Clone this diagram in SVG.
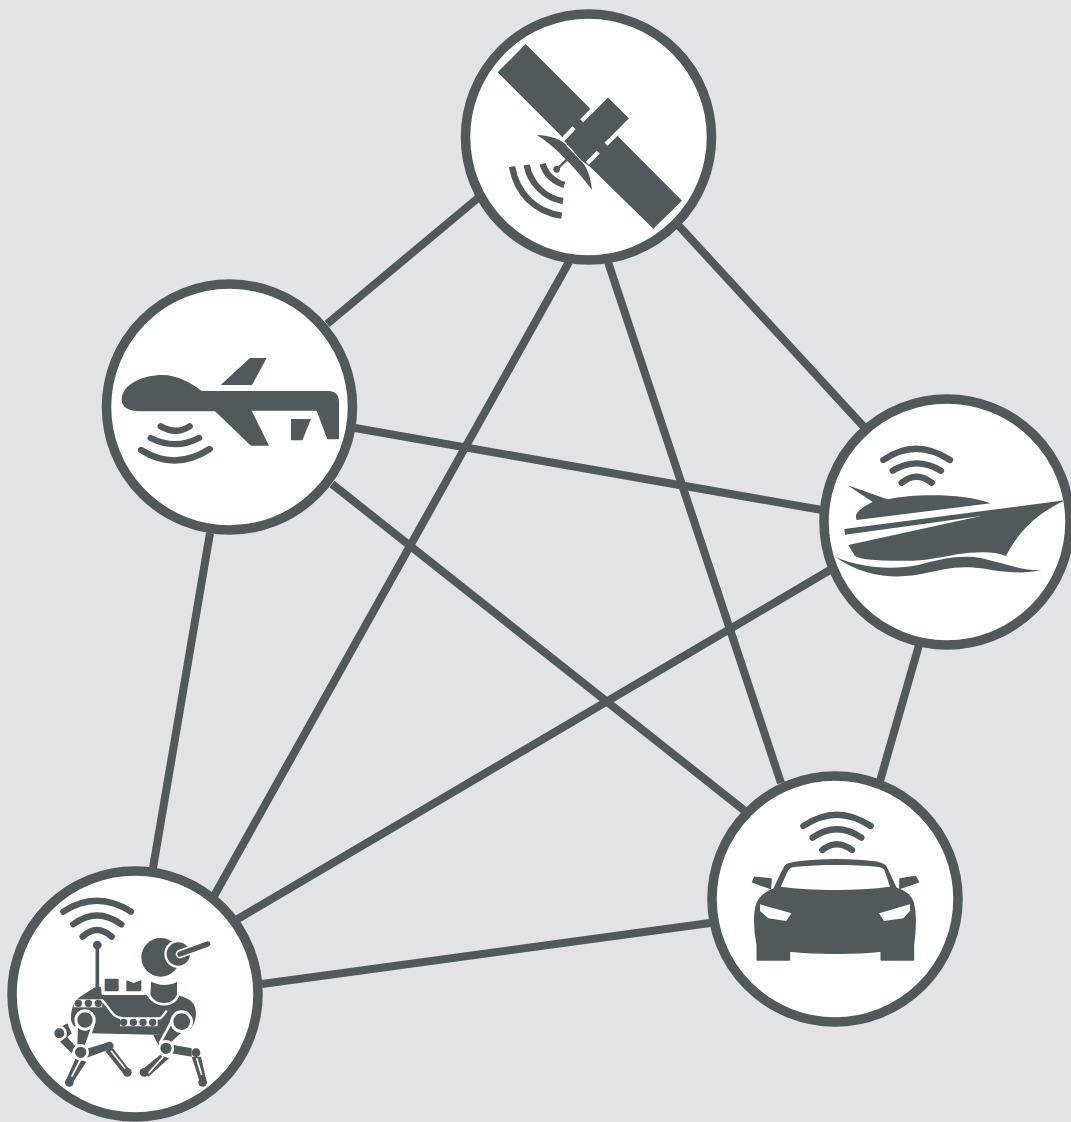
<svg xmlns="http://www.w3.org/2000/svg" width="1071" height="1122" viewBox="0 0 1071 1122">
<style>
.c{fill:#fff;stroke:#50595c;stroke-width:9.5}
.d{fill:#50595c}
.w{fill:#fff}
.a{fill:none;stroke:#50595c;stroke-width:19;stroke-linecap:round}
.l{fill:none;stroke:#50595c}
.wl{fill:none;stroke:#fff}
.o{fill:#50595c;stroke:#fff;stroke-width:8}
.j{fill:#50595c;stroke:#50595c;stroke-width:5;stroke-linejoin:round}
#connectors line{stroke:#50595c;stroke-width:8}
</style>
<rect width="1071" height="1122" fill="#e1e3e7"/>
<g id="connectors">
<line x1="478" y1="198" x2="327" y2="324"/>
<line x1="569" y1="262" x2="214" y2="896"/>
<line x1="608" y1="262" x2="781" y2="783"/>
<line x1="679" y1="226" x2="864" y2="427"/>
<line x1="355" y1="428" x2="822" y2="510"/>
<line x1="332" y1="484" x2="745" y2="811"/>
<line x1="210" y1="533" x2="153" y2="868"/>
<line x1="830" y1="570" x2="236" y2="920"/>
<line x1="919" y1="645" x2="880" y2="781"/>
<line x1="710" y1="923" x2="262" y2="984"/>
</g>
<g id="satellite">
<circle class="c" cx="588.500" cy="137" r="123"/>
<g transform="translate(470 10) scale(.33333)">
<path class="d" d="M83,187L167,102L358,293L366,311L414,263L477,325L443,359L445,380L636,572L550,656L360,470L335,452L285,395L273,377Z"/>
<path class="wl" stroke-width="13" d="M335,332L372,295M278,389L312,353M408,403L448,363M352,460L385,427"/>
<path class="d" d="M200,375C240,375 280,390 292,410L330,450C350,465 362,500 366,540C340,505 310,470 280,440C250,410 225,390 200,375Z"/>
<path class="l" stroke-width="7" d="M260,478L298,442"/>
<circle class="d" cx="260" cy="478" r="10"/>
<path class="l" stroke-width="19" d="M218,461C225,490 250,515 283,525M170,465C180,520 225,565 279,573M126,470C140,550 195,605 275,617"/>
</g>
</g>
<g id="uav">
<circle class="c" cx="229.500" cy="407" r="123"/>
<g transform="translate(105 340) scale(.33333)">
<path class="d" d="M50,180C50,130 120,105 170,105C220,105 260,130 290,153L670,153C690,153 702,165 702,185L702,298L667,298L635,212L440,212L492,317L438,317L330,214L105,214C70,214 50,200 50,180Z"/>
<path class="d" d="M347,135L435,54L485,54L441,135Z"/>
<path class="d" d="M558,237L618,237L592,301L558,301Z"/>
<path class="a" d="M167,259Q212,286 254,259M137,294Q210,331 282,294M108,330Q210,394 314,327"/>
</g>
</g>
<g id="ship">
<circle class="c" cx="947" cy="522" r="123"/>
<g transform="translate(825 430) scale(.33333)">
<path class="a" d="M175,90Q272,22 375,90M203,122Q275,78 348,122M230,158Q275,122 320,158"/>
<path class="d" d="M68,166L187,208C270,190 420,190 497,220L95,270C88,255 95,240 143,216Z"/>
<path class="d" d="M58,297L720,211C640,250 590,290 543,378C500,360 440,368 400,372C330,385 290,395 220,392C160,392 110,390 90,378L70,345L468,258L60,314Z"/>
<path class="d" d="M30,380C110,415 200,420 280,405C340,390 400,372 470,385C530,398 600,425 652,420C600,432 540,428 470,415C400,405 350,418 300,430C230,445 130,450 30,380Z"/>
</g>
</g>
<g id="car">
<circle class="c" cx="835" cy="899" r="123"/>
<g transform="translate(740 805) scale(.33333)">
<path class="a" d="M190,63Q290,-5 392,63M218,98Q290,48 364,98M247,135Q290,100 336,135"/>
<path class="j" d="M148,465L52,465L52,420C42,370 42,320 52,295C62,270 85,258 102,252L132,190C137,177 145,177 170,172C240,162 340,162 410,172C430,177 435,180 440,190L468,250C495,258 513,272 520,295C528,330 526,375 520,420L520,465L424,465L424,438C350,447 230,447 148,438Z"/>
<path class="w" d="M122,245L145,195C150,187 160,186 170,185C240,178 340,178 410,185C425,187 430,190 433,195L450,245C350,258 220,258 122,245Z"/>
<path class="w" d="M60,298L155,325L138,348L85,340L60,318Z"/>
<path class="w" d="M510,298L417,325L432,348L490,340L510,318Z"/>
<path class="j" d="M44,217L93,222L91,250L38,231Z"/>
<path class="j" d="M480,222L526,215L535,231L480,250Z"/>
</g>
</g>
<g id="rover">
<circle class="c" cx="135" cy="994" r="123"/>
<g transform="translate(45 890) scale(.33333)">
<path class="a" d="M55,65Q155,0 258,65M85,103Q155,50 229,103M113,140Q155,100 200,140"/>
<path class="l" stroke-width="11" d="M157,165V292"/>
<circle class="d" cx="157" cy="165" r="13"/>
<path class="d" d="M78,385C78,350 90,330 105,320L150,292L168,290L170,315L305,315C320,345 380,350 402,317C440,325 453,345 453,370C453,395 440,420 425,425L360,435L135,430C100,420 78,410 78,385Z"/>
<rect class="o" x="175" y="262" width="50" height="46" rx="7"/>
<path class="o" d="M240,265L266,275L293,265V301C293,306 290,308 285,308H248C243,308 240,306 240,301Z"/>
<path class="wl" stroke-width="24" d="M86,340H172"/>
<path class="wl" stroke-width="7" d="M170,330C190,345 200,385 235,385H345C352,382 358,372 365,362"/>
<path class="wl" stroke-width="24" d="M225,397H338"/>
<circle class="d" cx="100" cy="340" r="11"/><circle class="d" cx="130" cy="340" r="11"/><circle class="d" cx="160" cy="340" r="11"/>
<circle class="d" cx="236" cy="397" r="11"/><circle class="d" cx="265" cy="397" r="11"/><circle class="d" cx="294" cy="397" r="11"/><circle class="d" cx="323" cy="397" r="11"/>
<path class="o" d="M315,268C340,285 380,285 400,268V315C385,352 330,352 312,315Z"/>
<circle class="d" cx="347" cy="202" r="58"/>
<circle class="w" cx="400" cy="192" r="42"/>
<circle class="d" cx="400" cy="192" r="35"/>
<path class="wl" stroke-width="26" stroke-linecap="round" d="M405,192L445,177"/>
<path class="l" stroke-width="16" stroke-linecap="round" d="M405,192L488,162"/>
<path class="o" d="M95,405L145,405L122,470L93,470Z"/>
<circle class="w" cx="120" cy="390" r="32"/>
<circle class="d" cx="120" cy="390" r="23"/>
<path class="d" d="M50,410L67,400L80,430L65,443Z"/>
<circle class="o" cx="43" cy="430" r="19" stroke-width="4"/>
<path class="d" d="M45,455L65,440L93,470L80,490Z"/>
<path class="d" d="M120,478L190,457L195,478L125,503Z"/>
<circle class="d" cx="193" cy="468" r="13"/>
<path class="d" d="M180,482L205,476L258,545L238,555Z"/>
<path class="wl" stroke-width="5" d="M198,482L242,538"/>
<path class="d" d="M92,505L124,515L82,580L62,572Z"/>
<path class="wl" stroke-width="5" d="M106,510L80,560"/>
<circle class="d" cx="247" cy="547" r="13"/><circle class="d" cx="73" cy="577" r="13"/>
<circle class="o" cx="107" cy="487" r="21" stroke-width="7"/>
<path class="d" d="M325,435L360,435L340,465Z"/>
<path class="o" d="M385,385L430,415L380,460L347,455Z"/>
<circle class="w" cx="410" cy="395" r="34"/>
<circle class="d" cx="410" cy="395" r="25"/>
<path class="d" d="M385,465L440,475L440,500L380,490Z"/>
<circle class="d" cx="453" cy="488" r="13"/>
<path class="d" d="M440,500L468,500L485,575L465,578Z"/>
<path class="wl" stroke-width="5" d="M455,505L470,555"/>
<path class="d" d="M345,495L372,505L310,560L290,540Z"/>
<path class="wl" stroke-width="5" d="M355,500L310,550"/>
<circle class="d" cx="473" cy="577" r="13"/><circle class="d" cx="297" cy="547" r="13"/>
<circle class="o" cx="363" cy="475" r="21" stroke-width="7"/>
</g>
</g>
</svg>
